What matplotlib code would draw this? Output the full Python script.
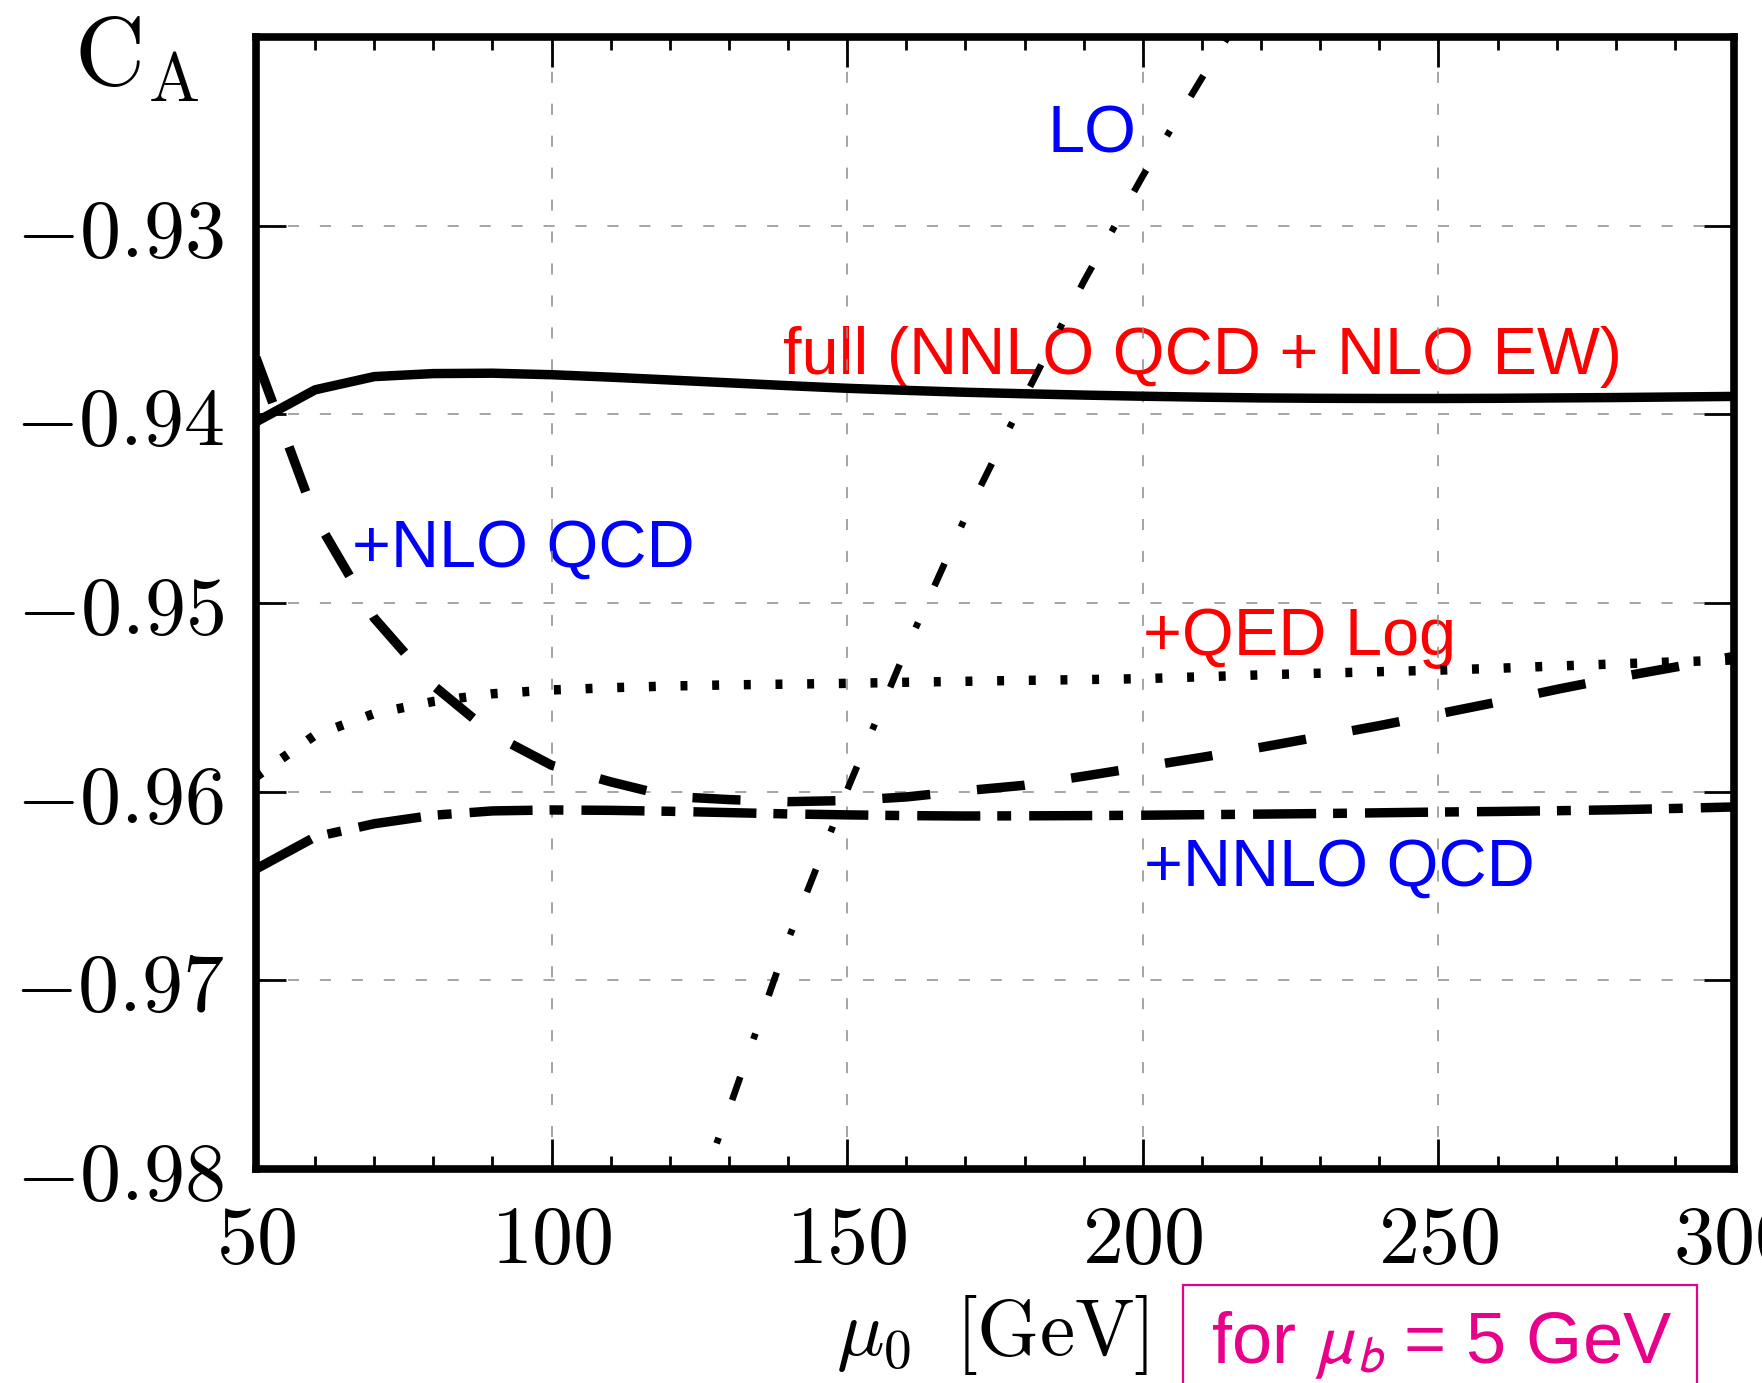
import matplotlib

matplotlib.use("Agg")
import matplotlib.pyplot as plt  # noqa: E402
from matplotlib.patches import Rectangle  # noqa: E402
from matplotlib.ticker import FixedLocator, FuncFormatter, MultipleLocator  # noqa: E402

# mu_0 [GeV] grid shared by the heavy curves
mu0 = [50, 60, 70, 80, 90, 100, 110, 120, 130, 140, 150, 160, 170,
       180, 190, 200, 210, 220, 230, 240, 250, 260, 270, 280, 290, 300]

ca_full = [-0.9404, -0.9387, -0.9380, -0.93784, -0.93782, -0.9379, -0.93803,
           -0.93818, -0.93833, -0.93848, -0.93862, -0.93873, -0.93883,
           -0.93891, -0.93898, -0.93904, -0.93909, -0.93913, -0.93915,
           -0.93916, -0.93916, -0.93915, -0.93913, -0.93911, -0.93908, -0.93905]

ca_nlo = [-0.9370, -0.94545, -0.9508, -0.95437, -0.95695, -0.9586, -0.95948,
          -0.96025, -0.96042, -0.96053, -0.96047, -0.96028, -0.95995,
          -0.95966, -0.95918, -0.95868, -0.95818, -0.95765, -0.95708,
          -0.9565, -0.95588, -0.95525, -0.95458, -0.95396, -0.9534, -0.95283]

ca_qed = [-0.9592, -0.9570, -0.95586, -0.95522, -0.95481, -0.95461, -0.95449,
          -0.9544, -0.95434, -0.9543, -0.95426, -0.9542, -0.95415, -0.9541,
          -0.95406, -0.95401, -0.95391, -0.95381, -0.95372, -0.95364,
          -0.95356, -0.95346, -0.95334, -0.95323, -0.95312, -0.95302]

ca_nnlo = [-0.9641, -0.9624, -0.9617, -0.96125, -0.96102, -0.96097, -0.96099,
           -0.96104, -0.96111, -0.96118, -0.96123, -0.96127, -0.96129,
           -0.96128, -0.96127, -0.96125, -0.96122, -0.96119, -0.96116,
           -0.96112, -0.96108, -0.96105, -0.96101, -0.96096, -0.96089, -0.96081]

# LO leaves the frame quickly, so it has its own points
mu0_lo = [125, 130, 140, 150, 160, 170, 180, 190, 200, 210, 216]
ca_lo = [-0.98117, -0.97683, -0.96786, -0.95991, -0.95242, -0.94544,
         -0.9391, -0.93297, -0.92736, -0.92217, -0.9192]

xticks = [50, 100, 150, 200, 250, 300]
yticks = [-0.98, -0.97, -0.96, -0.95, -0.94, -0.93]

BLUE = "#0000ff"
RED = "#ff0000"
MAGENTA = "#e8008a"

plt.rcParams["mathtext.fontset"] = "cm"
plt.rcParams["lines.scale_dashes"] = False

fig = plt.figure(figsize=(17.62, 13.83), dpi=100)
ax = fig.add_axes([256 / 1762, 1 - 1169 / 1383, (1734 - 256) / 1762, (1169 - 37) / 1383])

lw = 6.8
ax.plot(mu0, ca_full, color="k", lw=lw, solid_capstyle="butt")
ax.plot(mu0, ca_nlo, color="k", lw=lw, linestyle=(0, (34.6, 33.8)))
ax.plot(mu0, ca_qed, color="k", lw=lw, linestyle=(0, (5.0, 17.8)))
ax.plot(mu0, ca_nnlo, color="k", lw=lw, linestyle=(0, (45.4, 12.2, 10.0, 13.0)))
ax.plot(mu0_lo, ca_lo, color="k", lw=4.8, linestyle=(10, (17.7, 28.8, 4.3, 28.8)))

ax.set_xlim(50, 300)
ax.set_ylim(-0.98, -0.92)
ax.xaxis.set_major_locator(FixedLocator(xticks))
ax.xaxis.set_minor_locator(MultipleLocator(10))
ax.yaxis.set_major_locator(FixedLocator(yticks))
ax.xaxis.set_major_formatter(FuncFormatter(lambda v, _: f"${v:.0f}$"))
ax.yaxis.set_major_formatter(FuncFormatter(lambda v, _: f"${v:.2f}$"))

ax.tick_params(which="both", direction="in", top=True, right=True, width=2.0, colors="k")
ax.tick_params(which="major", length=21.5, pad=23, labelsize=59)
ax.tick_params(which="minor", length=9.4)
for sp in ax.spines.values():
    sp.set_linewidth(5.5)

ax.grid(True, which="major", color="#8c8c8c", lw=1.1, linestyle=(0, (8, 15)))

txt = dict(family="Liberation Sans", fontsize=48, zorder=0.5)
ax.text(183.8, -0.9261, "LO", color=BLUE, **txt)
ax.text(139.1, -0.93788, "full (NNLO QCD + NLO EW)", color=RED, **txt)
ax.text(66.2, -0.94806, "+NLO QCD", color=BLUE, **txt)
ax.text(200.0, -0.95277, "+QED Log", color=RED, **txt)
ax.text(200.2, -0.96496, "+NNLO QCD", color=BLUE, **txt)

fig.text(74 / 1762, 1 - 85 / 1383, r"$\mathrm{C}_\mathrm{A}$", fontsize=70,
         ha="left", va="baseline")
fig.text(1148 / 1762, 1 - 1355 / 1383, r"$\mu_0\;\;[\mathrm{GeV}]$", fontsize=57,
         ha="right", va="baseline")

fig.text(1211 / 1762, 1 - 1363 / 1383, r"for $\mu_b$ = 5 GeV", color=MAGENTA,
         family="Liberation Sans", math_fontfamily="stixsans", fontsize=52,
         ha="left", va="baseline")
fig.add_artist(Rectangle((1183 / 1762, 1 - 1400 / 1383), (1697 - 1183) / 1762,
                         (1400 - 1285) / 1383, transform=fig.transFigure,
                         fill=False, ec=MAGENTA, lw=1.6))

fig.savefig("out.png", dpi=100)
